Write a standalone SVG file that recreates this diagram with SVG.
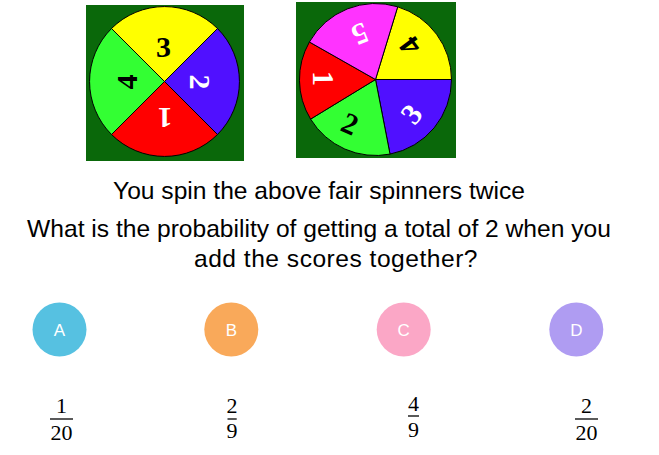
<svg xmlns="http://www.w3.org/2000/svg" width="659" height="455" viewBox="0 0 659 455">
<style>
.bg{fill:#0a680a}
.sec{stroke:#000;stroke-width:1}
.num{font-family:"Liberation Serif",serif;font-weight:bold;font-size:30px;text-anchor:middle}
.q{font-family:"Liberation Sans",Arial,sans-serif;font-size:24.6px;fill:#000;text-anchor:middle}
.opt{font-family:"Liberation Sans",Arial,sans-serif;font-size:17px;fill:#fff;text-anchor:middle}
.fr{font-family:"Liberation Serif",serif;font-size:22px;fill:#000;text-anchor:middle}
.bar{stroke:#000;stroke-width:1.3}
</style>
<rect width="659" height="455" fill="#fff"/>
<g id="spinner1">
  <rect class="bg" x="86" y="5" width="158" height="156"/>
  <path class="sec" fill="#ffff00" d="M164.5,81.5 L111.5,28.5 A75,75 0 0 1 217.5,28.5 Z"/>
  <path class="sec" fill="#5010ff" d="M164.5,81.5 L217.5,28.5 A75,75 0 0 1 217.5,134.5 Z"/>
  <path class="sec" fill="#ff0000" d="M164.5,81.5 L217.5,134.5 A75,75 0 0 1 111.5,134.5 Z"/>
  <path class="sec" fill="#33ff33" d="M164.5,81.5 L111.5,134.5 A75,75 0 0 1 111.5,28.5 Z"/>
  <text class="num" fill="#000" transform="translate(163.5,46.5)" y="10">3</text>
  <text class="num" fill="#fff" transform="translate(200,82) rotate(90)" y="10">2</text>
  <text class="num" fill="#fff" transform="translate(165,118) rotate(180)" y="10">1</text>
  <text class="num" fill="#000" transform="translate(127,82) rotate(-90)" y="10">4</text>
</g>
<g id="spinner2">
  <rect class="bg" x="296" y="2" width="160" height="156"/>
  <path class="sec" fill="#ffff00" d="M375.5,79.5 L397.7,6.8 A76,76 0 0 1 451.5,79.5 Z"/>
  <path class="sec" fill="#5010ff" d="M375.5,79.5 L451.5,79.5 A76,76 0 0 1 390,154.1 Z"/>
  <path class="sec" fill="#33ff33" d="M375.5,79.5 L390,154.1 A76,76 0 0 1 310.6,119.1 Z"/>
  <path class="sec" fill="#ff0000" d="M375.5,79.5 L310.6,119.1 A76,76 0 0 1 309.4,42 Z"/>
  <path class="sec" fill="#ff33ff" d="M375.5,79.5 L309.4,42 A76,76 0 0 1 397.7,6.8 Z"/>
  <text class="num" fill="#fff" transform="translate(360,34) rotate(158.5)" y="10">5</text>
  <text class="num" fill="#000" transform="translate(410,46) rotate(233.5)" y="10">4</text>
  <text class="num" fill="#fff" transform="translate(411.5,114) rotate(-50.5)" y="10">3</text>
  <text class="num" fill="#000" transform="translate(350,124) rotate(24)" y="10">2</text>
  <text class="num" fill="#fff" transform="translate(323,78.5) rotate(89.5)" y="10">1</text>
</g>
<g id="question">
  <text class="q" x="319" y="199">You spin the above fair spinners twice</text>
  <text class="q" x="319" y="237">What is the probability of getting a total of 2 when you</text>
  <text class="q" x="336" y="267" letter-spacing="0.5">add the scores together?</text>
</g>
<g id="optA">
  <circle cx="59.5" cy="329.5" r="27" fill="#56c1e1"/>
  <text class="opt" x="59.5" y="336">A</text>
  <text class="fr" x="61.5" y="413">1</text>
  <line class="bar" x1="50" y1="419" x2="73" y2="419"/>
  <text class="fr" x="61.5" y="440">20</text>
</g>
<g id="optB">
  <circle cx="231.3" cy="329.5" r="27" fill="#f9a95a"/>
  <text class="opt" x="231.3" y="336">B</text>
  <text class="fr" x="232" y="413">2</text>
  <line class="bar" x1="227.5" y1="419" x2="236.7" y2="419"/>
  <text class="fr" x="232" y="438">9</text>
</g>
<g id="optC">
  <circle cx="403.7" cy="329.5" r="27" fill="#fba7c6"/>
  <text class="opt" x="403.7" y="336">C</text>
  <text class="fr" x="413.5" y="410.5">4</text>
  <line class="bar" x1="408" y1="416" x2="419" y2="416"/>
  <text class="fr" x="413.5" y="436.5">9</text>
</g>
<g id="optD">
  <circle cx="576.3" cy="329.5" r="27" fill="#af9cf2"/>
  <text class="opt" x="576.3" y="336">D</text>
  <text class="fr" x="586.5" y="413">2</text>
  <line class="bar" x1="575" y1="419" x2="598" y2="419"/>
  <text class="fr" x="586.5" y="440">20</text>
</g>
</svg>
